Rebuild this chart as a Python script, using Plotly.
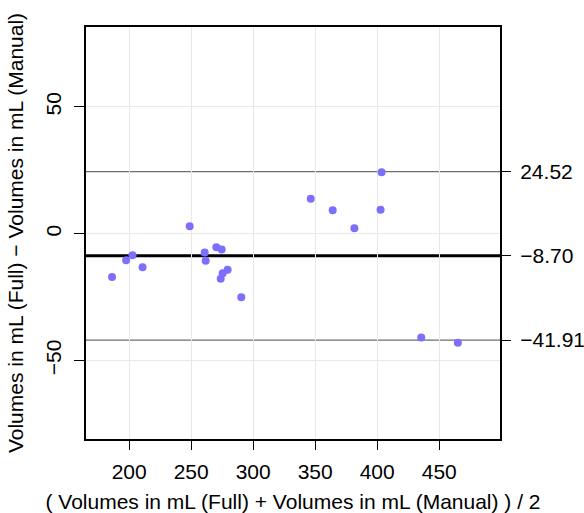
import plotly.graph_objects as go

# Bland-Altman data
means = [186.2, 197.6, 202.7, 210.8, 248.8, 260.9, 261.7, 270.3, 274.6, 279.4,
         275.4, 273.8, 290.4, 346.4, 364.1, 381.6, 402.7, 403.5, 435.5, 465.0]
diffs = [-17.0, -10.4, -8.5, -13.2, 3.0, -7.4, -10.6, -5.3, -6.2, -14.2,
         -15.6, -17.7, -25.0, 13.8, 9.3, 2.2, 9.5, 24.2, -40.9, -43.0]

bias = -8.70
upper_loa = 24.52
lower_loa = -41.91

x_ticks = [200, 250, 300, 350, 400, 450]
y_ticks = [-50, 0, 50]
x_range = [165.2, 499.0]
y_range = [-80.9, 81.5]

font = "Liberation Sans, Arial, Helvetica, sans-serif"
fs = 21

fig = go.Figure()
fig.add_trace(go.Scatter(
    x=means, y=diffs, mode="markers",
    marker=dict(size=8, color="#7D6EFC", line=dict(width=0)),
    showlegend=False, hoverinfo="x+y"))
# invisible trace on secondary axis so it renders
fig.add_trace(go.Scatter(x=[x_range[0]], y=[bias], yaxis="y2", mode="markers",
                         marker=dict(opacity=0), showlegend=False, hoverinfo="skip"))

fig.add_shape(type="line", xref="paper", x0=0, x1=1, yref="y", y0=upper_loa, y1=upper_loa,
              line=dict(color="#6e6e6e", width=1.2), layer="between")
fig.add_shape(type="line", xref="paper", x0=0, x1=1, yref="y", y0=lower_loa, y1=lower_loa,
              line=dict(color="#6e6e6e", width=1.2), layer="between")
fig.add_shape(type="line", xref="paper", x0=0, x1=1, yref="y", y0=bias, y1=bias,
              line=dict(color="black", width=3), layer="between")

def fmt(v):
    s = f"{abs(v):.2f}"
    return ("\u2212" + s) if v < 0 else s

fig.update_layout(
    width=584, height=513,
    margin=dict(l=86, r=84, t=27, b=74, autoexpand=False),
    paper_bgcolor="white", plot_bgcolor="white",
    font=dict(family=font, size=fs, color="black"),
    xaxis=dict(
        range=x_range, tickvals=x_ticks, ticktext=[str(v) for v in x_ticks],
        ticks="outside", ticklen=9, tickwidth=1, tickcolor="black",
        ticklabelstandoff=4,
        showgrid=True, gridcolor="#E8E8E8", gridwidth=1, zeroline=False,
        showline=True, linecolor="black", linewidth=2, mirror=True,
        title=dict(text="( Volumes in mL (Full) + Volumes in mL (Manual) ) / 2",
                   font=dict(size=fs), standoff=22),
        tickfont=dict(size=fs),
    ),
    yaxis=dict(
        range=y_range, tickvals=y_ticks,
        ticktext=[fmt(v).replace(".00", "") for v in y_ticks],
        ticks="outside", ticklen=10, tickwidth=1, tickcolor="black",
        tickangle=-90, ticklabelstandoff=5,
        showgrid=True, gridcolor="#E8E8E8", gridwidth=1, zeroline=False,
        showline=True, linecolor="black", linewidth=2, mirror=True,
        title=dict(text="Volumes in mL (Full) \u2212 Volumes in mL (Manual)",
                   font=dict(size=fs), standoff=12),
        tickfont=dict(size=fs),
    ),
    yaxis2=dict(
        range=y_range, overlaying="y", side="right",
        tickvals=[upper_loa, bias, lower_loa],
        ticktext=[fmt(v) for v in [upper_loa, bias, lower_loa]],
        ticks="outside", ticklen=10, tickwidth=1, tickcolor="black",
        ticklabelstandoff=5,
        showgrid=False, zeroline=False, showline=False,
        tickfont=dict(size=fs),
    ),
)

fig.write_html("out.html", config={"displayModeBar": False},
               post_script="document.body.style.margin='0px';document.body.style.overflow='hidden';")
